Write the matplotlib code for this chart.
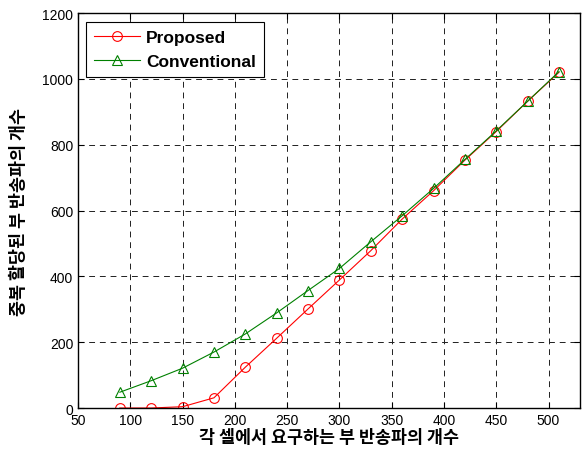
import matplotlib
matplotlib.use("Agg")
import matplotlib.pyplot as plt

x_vals = [90, 120, 150, 180, 210, 240, 270, 300, 330, 360, 390, 420, 450, 480, 510]
proposed = [0, 0, 4, 31, 124, 212, 301, 389, 478, 574, 660, 753, 840, 932, 1020]
conventional = [48, 83, 121, 170, 225, 289, 357, 424, 505, 584, 667, 755, 842, 932, 1022]
series_names = ["Proposed", "Conventional"]
x_label = "각 셀에서 요구하는 부 반송파의 개수"
y_label = "중복 할당된 부 반송파의 개수"
x_ticks = [50, 100, 150, 200, 250, 300, 350, 400, 450, 500]
y_ticks = [0, 200, 400, 600, 800, 1000, 1200]

fig = plt.figure(figsize=(5.84, 4.52), dpi=100)
ax = fig.add_axes([0.1336, 0.0951, 0.993 - 0.1336, 0.969 - 0.0951])

ax.plot(x_vals, proposed, color="#ff0000", lw=0.8, marker="o", ms=7,
        mfc="none", mec="#ff0000", mew=0.8, label=series_names[0])
ax.plot(x_vals, conventional, color="#008000", lw=0.8, marker="^", ms=7.5,
        mfc="none", mec="#008000", mew=0.8, label=series_names[1])

ax.set_xlim(50, 530)
ax.set_ylim(0, 1200)
ax.set_xticks(x_ticks)
ax.set_yticks(y_ticks)
ax.tick_params(direction="in", length=4, width=0.8, labelsize=10, top=True, right=True)
for lab in ax.get_xticklabels() + ax.get_yticklabels():
    lab.set_fontfamily("Liberation Sans")
ax.grid(True, color="#202020", linestyle=(0, (6, 5)), linewidth=0.7)
for s in ax.spines.values():
    s.set_linewidth(1.0)
    s.set_color("black")

ax.set_xlabel(x_label, fontsize=12.5, fontweight="bold",
              family=["Noto Sans CJK KR", "DejaVu Sans"], labelpad=1)
ax.set_ylabel(y_label, fontsize=12.5, fontweight="bold",
              family=["Noto Sans CJK KR", "DejaVu Sans"], labelpad=10)

leg = ax.legend(loc="upper left", bbox_to_anchor=(0.016, 0.977), fancybox=False,
                edgecolor="black", framealpha=1, handlelength=2.65,
                prop={"family": "Liberation Sans", "weight": "bold", "size": 12.5},
                borderpad=0.45, labelspacing=0.5, handletextpad=0.35,
                borderaxespad=0)
leg.get_frame().set_linewidth(0.8)

fig.savefig("out.png", dpi=100)
